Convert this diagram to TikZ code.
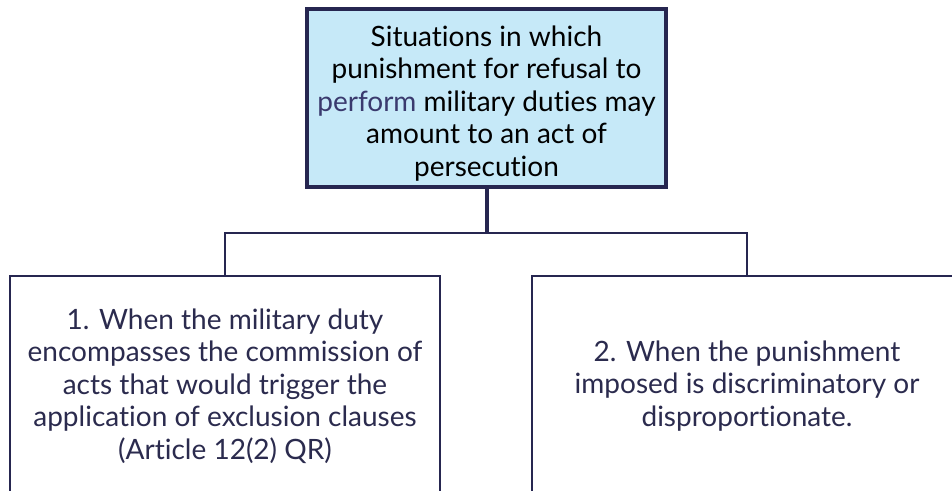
\documentclass[tikz,border=0pt]{standalone}
\usepackage{fontspec}
\setmainfont{Lato}[Ligatures={NoCommon}]
\definecolor{navy}{HTML}{262650}
\definecolor{inknavy}{HTML}{2B2B4E}
\definecolor{paleblue}{HTML}{C6E9F8}
\definecolor{wordblue}{HTML}{3A3A6E}
\begin{document}
\begin{tikzpicture}[x=1pt,y=-1pt,
  every node/.style={inner sep=0pt, align=center,
    font=\fontsize{28}{32.5}\selectfont},
  headbox/.style={draw=navy, line width=4pt, fill=paleblue, text=black},
  casebox/.style={draw=navy, line width=2.5pt, fill=white, text=inknavy},
  trunk/.style={draw=navy, line width=4pt},
  branch/.style={draw=navy, line width=2.5pt}]
\useasboundingbox (0,0) rectangle (952,490);
\clip (0,0) rectangle (952,490);
% question box (the strut on the first line lowers the text a little)
\node[headbox, minimum width=359pt, minimum height=178pt] (head) at (486.5,98)
  {\rule{0pt}{31pt}Situations in which\\punishment for refusal to\\
   \textcolor{wordblue}{perform} military duties may\\amount to an act of\\persecution};
% the two cases
\node[casebox, minimum width=430pt, minimum height=220pt] (caseA) at (225,386)
  {1. When the military duty\\encompasses the commission of\\acts that would trigger the\\
   application of exclusion clauses\\(Article 12(2) QR)};
\node[casebox, minimum width=430pt, minimum height=220pt] (caseB) at (747,386)
  {2. When the punishment\\imposed is discriminatory or\\disproportionate.};
% connectors
\coordinate (bar) at (486.5,233);
\draw[trunk] (head.south) -- (head.south |- bar);
\draw[branch] (caseA.north) -- (caseA.north |- bar) -- (caseB.north |- bar) -- (caseB.north);
\end{tikzpicture}
\end{document}
